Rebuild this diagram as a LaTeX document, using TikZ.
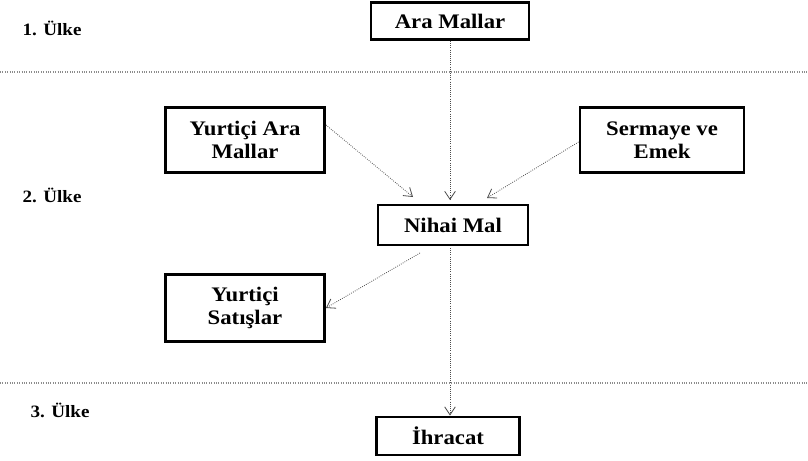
\documentclass[tikz,border=0pt]{standalone}
\usepackage{fontspec}
\setmainfont{Liberation Serif}[FakeStretch=1.1]
\usetikzlibrary{arrows.meta,positioning}

\begin{document}
\begin{tikzpicture}
[x=0.75pt,y=-0.75pt,
box/.style={rectangle,draw=black,line width=2.2pt,align=center,font=\fontsize{15.5}{17}\selectfont\bfseries,inner sep=2pt},
ulke/.style={font=\fontsize{13}{15}\selectfont\bfseries,anchor=west},
flow/.style={-{Straight Barb[length=6pt,width=8pt]},draw=black!70,densely dotted,line width=0.6pt},
sep/.style={draw=black!45,densely dotted,line width=0.8pt}]
\useasboundingbox (0,0) rectangle (808,461);
% separators between countries
\draw[sep] (0,72) -- (808,72);
\draw[sep] (0,383) -- (808,383);
% country labels
\node[ulke] (u1) at (18,28) {1. Ülke};
\node[ulke] (u2) at (18,195) {2. Ülke};
\node[ulke] (u3) at (26,410) {3. Ülke};
% boxes
\node[box,minimum width=158pt*0.75,minimum height=37pt*0.75] (ara) at (450,21) {Ara Mallar};
\node[box,minimum width=159pt*0.75,minimum height=65pt*0.75] (yam) at (245,140) {Yurtiçi Ara\\Mallar};
\node[box,minimum width=164pt*0.75,minimum height=65pt*0.75] (sem) at (662,140) {Sermaye ve\\Emek};
\node[box,minimum width=150pt*0.75,minimum height=40pt*0.75] (nihai) at (453,225) {Nihai Mal};
\node[box,minimum width=159pt*0.75,minimum height=67pt*0.75] (ys) at (245,308) {Yurtiçi\\Satışlar};
\node[box,minimum width=143pt*0.75,minimum height=38pt*0.75] (ihr) at (448,436) {İhracat};
% arrows
\coordinate (n1) at (413,197);
\coordinate (n2) at (487,198);
\draw[flow] (ara.south -| 450,0) -- (450,200);
\draw[flow] (yam.east) ++(0,-15) -- (n1);
\draw[flow] (sem.west) ++(0,2) -- (n2);
\draw[flow] (420,253) -- (ys.east);
\draw[flow] (450,248) -- (ihr.north -| 450,0);
\end{tikzpicture}
\end{document}
